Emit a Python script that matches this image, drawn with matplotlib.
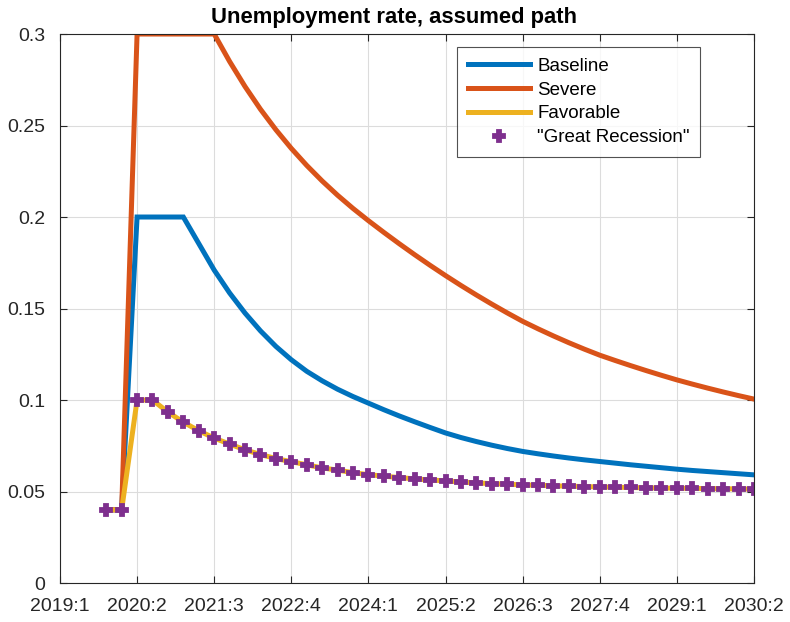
import matplotlib
matplotlib.use("Agg")
import matplotlib.pyplot as plt
import numpy as np

plt.rcParams['font.family'] = ['Liberation Sans', 'DejaVu Sans']

# quarter index 0 = 2019:1 ... 45 = 2030:2
quarters = list(range(3, 46))

baseline = [0.04, 0.04, 0.2, 0.2, 0.2, 0.2, 0.1855, 0.171, 0.1585, 0.1475, 0.1378,
            0.1293, 0.122, 0.1157, 0.1105, 0.1059, 0.1019, 0.0983, 0.0947, 0.0913,
            0.0881, 0.085, 0.082, 0.0795, 0.0773, 0.0753, 0.0735, 0.0719, 0.0706,
            0.0694, 0.0683, 0.0673, 0.0664, 0.0655, 0.0646, 0.0638, 0.063,
            0.0622, 0.0615, 0.0609, 0.0603, 0.0597, 0.0591]

severe = [0.04, 0.04, 0.3, 0.3, 0.3, 0.3, 0.3, 0.3, 0.285, 0.2713, 0.2589, 0.2477,
          0.2375, 0.2282, 0.2197, 0.2119, 0.2047, 0.198, 0.1916, 0.1854, 0.1794,
          0.1736, 0.168, 0.1626, 0.1574, 0.1524, 0.1476, 0.143, 0.1389, 0.135,
          0.1313, 0.1278, 0.1245, 0.1216, 0.1188, 0.1161, 0.1135, 0.111, 0.1087,
          0.1065, 0.1044, 0.1024, 0.1005]

great_recession = [0.04, 0.04, 0.1, 0.1, 0.0934, 0.0879, 0.0832, 0.0792, 0.0759,
                   0.0728, 0.0702, 0.068, 0.0663, 0.0646, 0.0629, 0.0617, 0.0603,
                   0.0592, 0.0584, 0.0576, 0.0569, 0.0563, 0.0558, 0.0552, 0.0547,
                   0.0543, 0.054, 0.0536, 0.0534, 0.0531, 0.0529, 0.0527, 0.0525,
                   0.0523, 0.0522, 0.052, 0.0519, 0.0518, 0.0517, 0.0516, 0.0515,
                   0.0514, 0.0513]

favorable = list(great_recession)

xtick_pos = [0, 5, 10, 15, 20, 25, 30, 35, 40, 45]
xtick_labels = ['2019:1', '2020:2', '2021:3', '2022:4', '2024:1', '2025:2',
                '2026:3', '2027:4', '2029:1', '2030:2']
ytick_pos = [0, 0.05, 0.1, 0.15, 0.2, 0.25, 0.3]
ytick_labels = ['0', '0.05', '0.1', '0.15', '0.2', '0.25', '0.3']

fig = plt.figure(figsize=(7.9, 6.22), dpi=100)
ax = fig.add_axes([0.0759, 0.0627, 0.8785, 0.8826])

lw = 3.6
ax.plot(quarters, baseline, color='#0072BD', lw=lw, label='Baseline', solid_joinstyle='miter')
ax.plot(quarters, severe, color='#D95319', lw=lw, label='Severe', solid_joinstyle='miter')
ax.plot(quarters, favorable, color='#EDB120', lw=lw, label='Favorable')
ax.plot(quarters, great_recession, linestyle='none', marker='P', markersize=9,
        color='#7E2F8E', markeredgecolor='#7E2F8E', markeredgewidth=1.3,
        label='"Great Recession"')

ax.set_xlim(0, 45)
ax.set_ylim(0, 0.3)
ax.set_xticks(xtick_pos)
ax.set_xticklabels(xtick_labels)
ax.set_yticks(ytick_pos)
ax.set_yticklabels(ytick_labels)

ax.grid(True, color='#dcdcdc', lw=0.8)
ax.set_axisbelow(True)
ax.tick_params(direction='in', top=True, right=True, length=5, width=0.8,
               colors='#262626', labelsize=14)
ax.tick_params(axis='x', pad=11)
ax.tick_params(axis='y', pad=10.5)
for s in ax.spines.values():
    s.set_color('#262626')
    s.set_linewidth(0.8)

ax.set_title('Unemployment rate, assumed path', fontsize=15.8, fontweight='bold',
             pad=8, x=0.482)

leg = ax.legend(loc='upper right', bbox_to_anchor=(0.922, 0.976), borderaxespad=0,
                fontsize=13.5, frameon=True, fancybox=False, handlelength=3.3,
                handletextpad=0.4, labelspacing=0.36, borderpad=0.55)
leg.get_frame().set_edgecolor('#262626')
leg.get_frame().set_linewidth(0.8)

fig.savefig('out.png', dpi=100)
